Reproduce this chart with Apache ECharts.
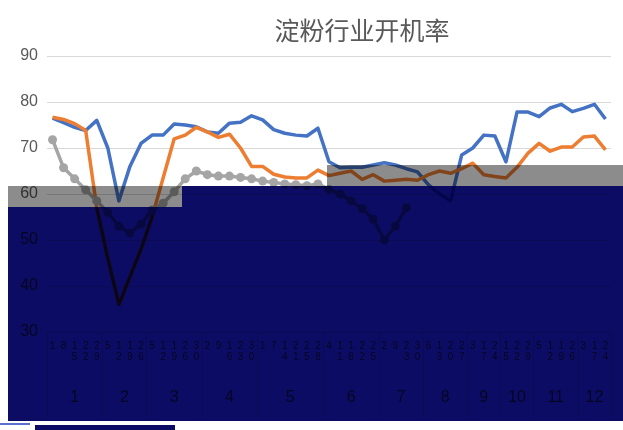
<!DOCTYPE html>
<html>
<head>
<meta charset="utf-8">
<title>淀粉行业开机率</title>
<script src="https://cdn.jsdelivr.net/npm/echarts@6/dist/echarts.min.js"></script>
<style>
  html, body { margin: 0; padding: 0; background: #fff; }
  #chart { width: 623px; height: 430px; }
</style>
</head>
<body>
<div id="chart"></div>
<script>
// 每月的数据点个数 (1-12月)
var months = ['1', '2', '3', '4', '5', '6', '7', '8', '9', '10', '11', '12'];
var monthCounts = [5, 4, 5, 5, 6, 5, 4, 4, 3, 3, 4, 3];
// 日期 (日)
var days = [1, 8, 15, 22, 29, 5, 12, 19, 26, 5, 12, 19, 26, 30, 2, 9, 16, 23, 30,
            1, 7, 14, 21, 25, 28, 4, 11, 18, 22, 25, 2, 9, 23, 30, 6, 13, 20, 27,
            3, 17, 24, 15, 22, 29, 5, 12, 19, 26, 3, 17, 24];
var yTicks = [30, 40, 50, 60, 70, 80, 90];

var data2019 = [76.5, 75.5, 74.5, 73.8, 76.0, 70.0, 58.5, 66.0, 71.0, 72.8, 72.8,
                75.2, 75.0, 74.6, 73.5, 73.2, 75.4, 75.6, 77.0, 76.1, 74.0, 73.2, 72.8, 72.6, 74.3, 67.0, 65.7,
                65.8, 65.8, 66.3, 66.8, 66.3, 65.5, 64.8, 62.0, 60.0, 58.5, 68.5, 70.0, 72.8, 72.6, 67.0,
                77.8, 77.8, 76.8, 78.7, 79.5, 77.9, 78.6, 79.5, 76.3];
var data2020 = [76.7, 76.2, 75.3, 73.8, 57.0, 46.0, 36.0, 42.0, 48.0, 55.0, 63.5,
                72.0, 72.8, 74.5, 73.5, 72.3, 73.0, 70.0, 66.0, 66.0, 64.3, 63.7, 63.5, 63.5, 65.2, 64.0, 64.5,
                65.0, 63.2, 64.2, 62.8, 63.0, 63.2, 63.0, 64.2, 65.0, 64.5, 65.5, 66.7, 64.2, 63.8, 63.5,
                65.8, 68.9, 71.0, 69.3, 70.2, 70.2, 72.4, 72.6, 69.6];
var data2021 = [71.8, 65.7, 63.3, 60.9, 58.5, 56.0, 53.0, 51.5, 53.5, 56.5, 58.0,
                60.5, 63.3, 65.0, 64.2, 63.9, 63.9, 63.6, 63.3, 62.8, 62.5, 62.2, 62.0, 61.8, 62.2, 61.0,
                60.0, 58.5, 56.8, 54.5, 50.0, 53.0, 57.0];

var categories = days.map(function (d, i) { return i + ':' + d; });

// 月份起点和中心
var monthStart = {};
var monthCenter = {};
var acc = 0;
monthCounts.forEach(function (n, m) {
    monthStart[acc] = true;
    monthCenter[String(acc + n / 2)] = months[m];
    acc += n;
});

var textColor = '#595959';

var chart = echarts.init(document.getElementById('chart'));
var option = {
    backgroundColor: '#fff',
    animation: false,
    title: {
        text: '淀粉行业开机率',
        left: 357,
        top: 13,
        textAlign: 'center',
        textStyle: {
            fontFamily: 'Noto Sans CJK SC',
            fontSize: 25,
            fontWeight: 'normal',
            color: textColor
        }
    },
    grid: { left: 47, right: 12, top: 56, bottom: 98 },
    xAxis: [
        {
            type: 'category',
            data: categories,
            axisLine: { lineStyle: { color: '#d9d9d9', width: 1 } },
            axisTick: {
                show: true,
                length: 85,
                interval: function (index) { return !!monthStart[index]; },
                lineStyle: { color: '#d9d9d9', width: 1 }
            },
            axisLabel: {
                interval: 0,
                margin: 9,
                fontSize: 10,
                lineHeight: 11,
                color: textColor,
                fontFamily: 'Liberation Sans',
                formatter: function (v) {
                    return v.split(':')[1].split('').join('\n');
                }
            }
        },
        {
            type: 'value',
            position: 'bottom',
            min: 0,
            max: 51,
            interval: 0.5,
            splitLine: { show: false },
            axisLine: { show: false },
            axisTick: { show: false },
            axisLabel: {
                margin: 58,
                fontSize: 16,
                color: textColor,
                fontFamily: 'Liberation Sans',
                formatter: function (v) { return monthCenter[String(v)] || ''; }
            }
        }
    ],
    yAxis: {
        type: 'value',
        min: yTicks[0],
        max: yTicks[yTicks.length - 1],
        interval: 10,
        axisLine: { show: false },
        axisTick: { show: false },
        axisLabel: {
            margin: 9,
            fontSize: 16,
            color: textColor,
            fontFamily: 'Liberation Sans'
        },
        splitLine: { lineStyle: { color: '#d9d9d9', width: 1 } }
    },
    series: [
        {
            name: '2019',
            type: 'line',
            data: data2019,
            symbol: 'none',
            lineStyle: { color: '#4472c4', width: 3.5, join: 'round' },
            itemStyle: { color: '#4472c4' }
        },
        {
            name: '2020',
            type: 'line',
            data: data2020,
            symbol: 'none',
            lineStyle: { color: '#ed7d31', width: 3.5, join: 'round' },
            itemStyle: { color: '#ed7d31' }
        },
        {
            name: '2021',
            type: 'line',
            data: data2021,
            symbol: 'circle',
            symbolSize: 9,
            lineStyle: { color: '#a5a5a5', width: 3.5, join: 'round' },
            itemStyle: { color: '#a5a5a5' }
        }
    ],
    // 截图中的色块
    graphic: {
        elements: [
            { type: 'rect', silent: true, z: 100, shape: { x: 327, y: 165, width: 296, height: 21 },
              style: { fill: '#8c8c8c', blend: 'multiply' } },
            { type: 'rect', silent: true, z: 100, shape: { x: 8, y: 186, width: 174, height: 21 },
              style: { fill: '#8c8c8c', blend: 'multiply' } },
            { type: 'rect', silent: true, z: 100, shape: { x: 182, y: 186, width: 441, height: 21 },
              style: { fill: '#0c0c64', blend: 'multiply' } },
            { type: 'rect', silent: true, z: 100, shape: { x: 8, y: 207, width: 615, height: 214 },
              style: { fill: '#0c0c64', blend: 'multiply' } },
            { type: 'rect', silent: true, z: 100, shape: { x: 0, y: 423, width: 30, height: 2 },
              style: { fill: '#5a6fd0' } },
            { type: 'rect', silent: true, z: 100, shape: { x: 35, y: 425, width: 140, height: 5 },
              style: { fill: '#0c0c64' } }
        ]
    }
};
chart.setOption(option);
</script>
</body>
</html>
